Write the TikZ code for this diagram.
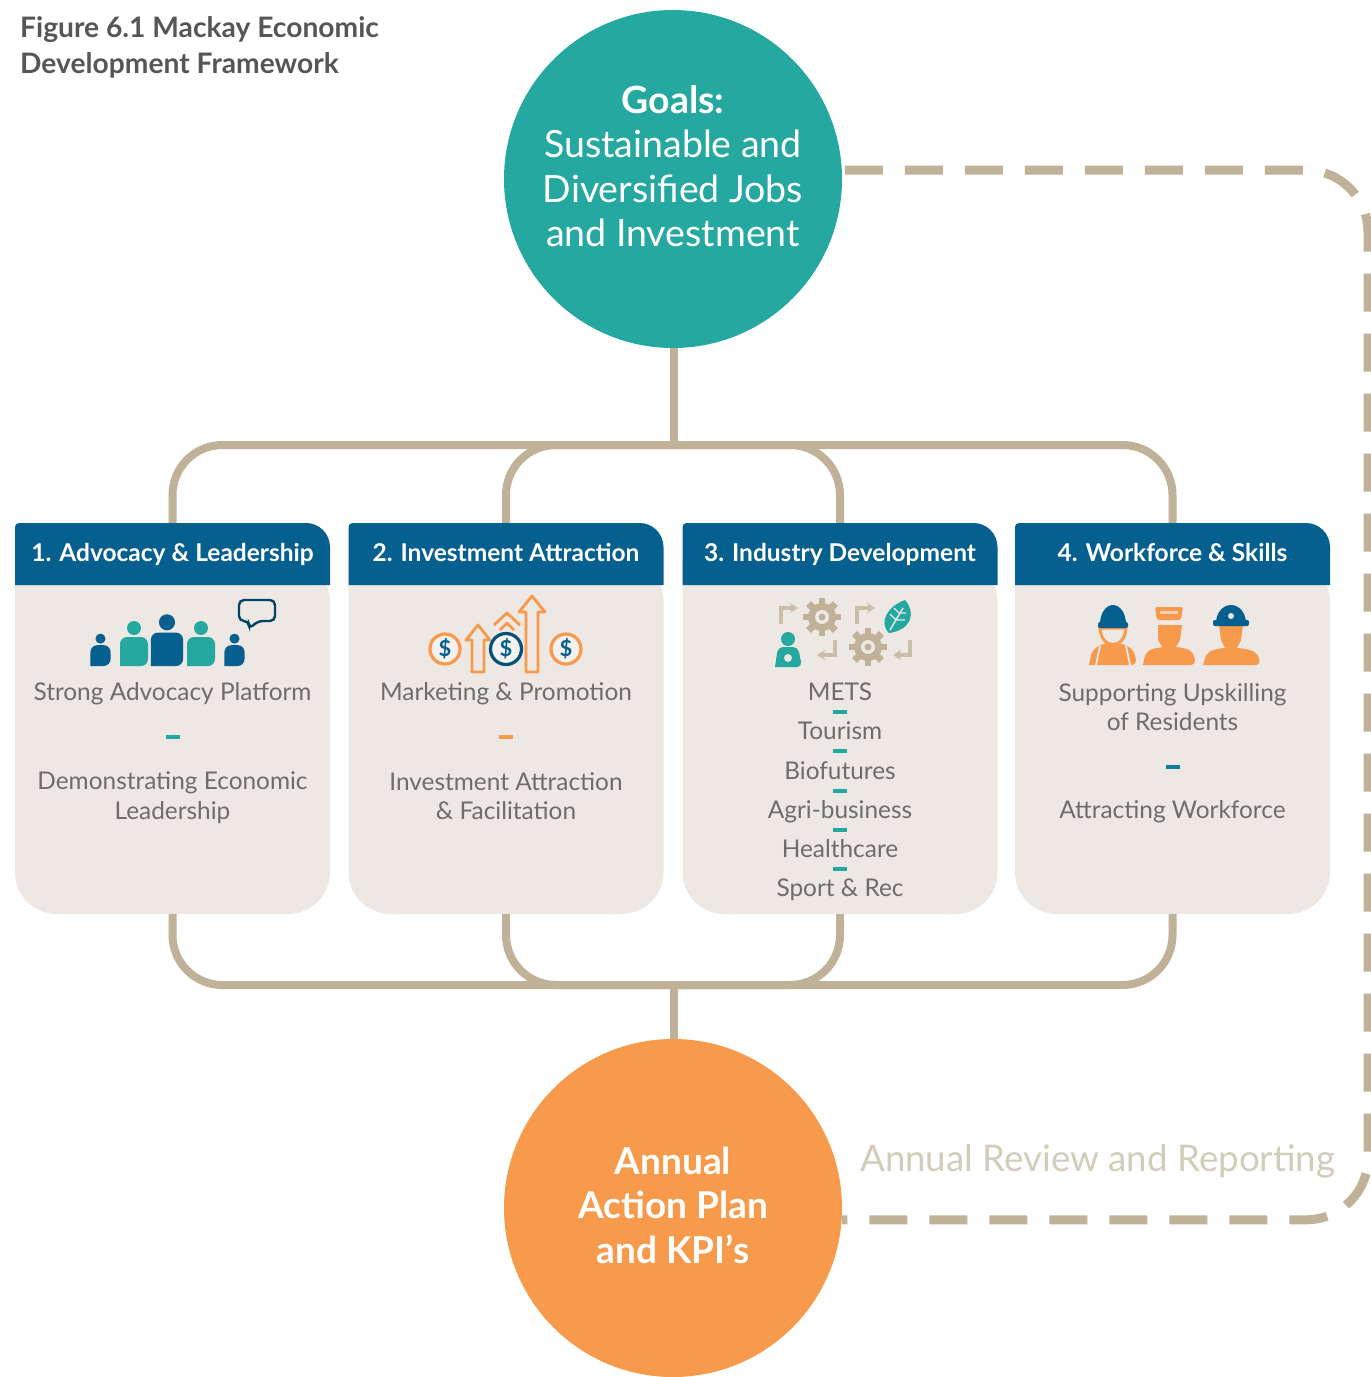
\documentclass[tikz,border=0pt]{standalone}
\usepackage{fontspec}
\setmainfont{Lato}
\usepackage{tikz}
\usetikzlibrary{arrows.meta,positioning,calc}

\definecolor{goalteal}{HTML}{25A8A0}
\definecolor{planorange}{HTML}{F79A4B}
\definecolor{linktan}{HTML}{BFB298}
\definecolor{headblue}{HTML}{05608F}
\definecolor{cardfill}{HTML}{EDE8E3}
\definecolor{itemgray}{HTML}{6E6C6C}
\definecolor{reviewtan}{HTML}{D2CCBA}
\definecolor{titlegray}{HTML}{565656}

\begin{document}
\begin{tikzpicture}[
    x=1pt, y=-1pt,
    circlebox/.style={circle, inner sep=0pt, minimum size=338pt},
    circletext/.style={inner sep=0pt, text=white, align=center, font=\fontsize{37.5}{44.5}\selectfont},
    headbox/.style={minimum width=315pt, minimum height=62pt, inner sep=0pt, text height=17.5pt, text depth=3pt, text=white, font=\fontsize{24.5}{28}\selectfont\bfseries},
    bodybox/.style={minimum width=315pt, minimum height=329pt, inner sep=0pt},
    item/.style={text=itemgray, inner sep=0pt, text height=17.5pt, text depth=0pt, font=\fontsize{24.4}{29.5}\selectfont},
    itemtwo/.style={text=itemgray, align=center, inner sep=0pt, font=\fontsize{24.4}{29.5}\selectfont},
    sepbar/.style={minimum width=14pt, minimum height=3.5pt, inner sep=0pt, fill=#1},
    link/.style={draw=linktan, line width=8pt, rounded corners=50pt},
    review/.style={draw=linktan, line width=9pt, rounded corners=62pt, dash pattern=on 38pt off 22pt, dash phase=57pt},
    bentarrow/.style={draw=linktan!85!white, line width=3.4pt, -{Stealth[length=8pt,width=10pt]}},
    personicon/.pic={
        \fill[pic actions] (0,-38) circle (7);
        \fill[pic actions, rounded corners=7pt] (-14,0) -- (-14,-29) -- (14,-29) -- (14,0) [sharp corners] -- cycle;
    },
    gearicon/.pic={
        \fill[linktan] (0,0) circle (14);
        \foreach \a in {0,45,...,315} {
            \fill[linktan, rotate=\a] (-3.4,-19) rectangle (3.4,-10);
        }
        \fill[cardfill] (0,0) circle (7);
        \fill[linktan] (0,0) circle (3.5);
    },
    coinicon/.pic={
        \draw[planorange, line width=3.2pt, fill=cardfill!60!white] (0,0) circle (15);
        \node[text=headblue, font=\fontsize{22}{22}\selectfont\bfseries] at (0,0) {\$};
    }
]

\useasboundingbox (0,0) rectangle (1371,1377);
\fill[white] (0,0) rectangle (1371,1377);

% Titre
\node[anchor=north west, inner sep=0pt, align=left, text=titlegray, font=\fontsize{28.2}{36}\selectfont\bfseries] (title) at (20,16) {Figure 6.1 Mackay Economic\\Development Framework};

% Cercles
\node[circlebox, fill=goalteal] (goals) at (673,179) {};
\node[circletext] (goalstext) at (673,166) {\textbf{Goals:}\\Sustainable and\\Diversified Jobs\\and Investment};
\node[circlebox, fill=planorange] (plan) at (673,1208) {};
\node[circletext, font=\fontsize{37}{44.5}\selectfont\bfseries] (plantext) at (673,1205) {Annual\\Action Plan\\and KPI’s};

% Cartes
\foreach \x/\n in {172.5/1, 506/2, 840/3, 1172.5/4} {
    \fill[cardfill, rounded corners=42pt] ({\x-157.5},560) -- ({\x-157.5},914) -- ({\x+157.5},914) -- ({\x+157.5},560) [sharp corners] -- cycle;
    \fill[headblue, rounded corners=24pt] ({\x-157.5},585) [rounded corners=4pt] -- ({\x-157.5},523) [rounded corners=24pt] -- ({\x+157.5},523) [sharp corners] -- ({\x+157.5},585) -- cycle;
    \node[bodybox] (body\n) at (\x,749.5) {};
}
\node[headbox] (head1) at (172.5,554) {1. Advocacy \& Leadership};
\node[headbox] (head2) at (506,554) {2. Investment Attraction};
\node[headbox] (head3) at (840,554) {3. Industry Development};
\node[headbox] (head4) at (1172.5,554) {4. Workforce \& Skills};

% Liaisons
\coordinate (topjoin) at (674,445);
\coordinate (botjoin) at (674,985);
\draw[link] (topjoin |- goals.south) -- (topjoin);
\draw[link] (botjoin) -- (botjoin |- plan.north);
\foreach \n in {1,2,3,4} {
    \draw[link] (topjoin) -| (head\n.north);
    \draw[link] (botjoin) -| (body\n.south);
}

% Revue annuelle
\coordinate (reviewside) at (1368,700);
\draw[review] (goals.3) -| (reviewside) |- (plan.-4);
\node[anchor=west, inner sep=0pt, text height=26pt, text depth=0pt, text=reviewtan, font=\fontsize{36.7}{36}\selectfont] (reviewlabel) at (860,1158) {Annual Review and Reporting};

% Carte 1
\node[item] (adv1) at (172.5,692) {Strong Advocacy Platform};
\node[sepbar=goalteal] (advsep) at (172.5,737) {};
\node[itemtwo] (adv2) at (172.5,797.5) {Demonstrating Economic\\Leadership};

% Carte 2
\node[item] (inv1) at (506,692) {Marketing \& Promotion};
\node[sepbar=planorange] (invsep) at (506,737) {};
\node[itemtwo] (inv2) at (506,796) {Investment Attraction\\\& Facilitation};

% Carte 3
\node[item] (ind1) at (840,692) {METS};
\node[item] (ind2) at (840,731) {Tourism};
\node[item] (ind3) at (840,771) {Biofutures};
\node[item] (ind4) at (840,810) {Agri-business};
\node[item] (ind5) at (840,849) {Healthcare};
\node[item] (ind6) at (840,888) {Sport \& Rec};
\foreach \y/\n in {712/1, 751/2, 791/3, 830/4, 869/5} {
    \node[sepbar=goalteal] (indsep\n) at (840,\y) {};
}

% Carte 4
\node[itemtwo] (wor1) at (1172.5,707) {Supporting Upskilling\\of Residents};
\node[sepbar=headblue!60!goalteal] (worsep) at (1172.5,767) {};
\node[item] (wor2) at (1172.5,810) {Attracting Workforce};

% Icône 1
\foreach \x/\s/\c in {100.5/.72/headblue, 134/1/goalteal, 167/1.15/headblue, 201/1/goalteal, 234.5/.72/headblue} {
    \pic[fill=\c, scale=\s] at (\x,666) {personicon};
}
\draw[draw=headblue!70!black, line width=2.4pt, rounded corners=5pt, fill=cardfill] (239,600) -- (275,600) -- (275,621) -- (258,621) -- (249,629) -- (249,621) -- (239,621) -- cycle;

% Icône 2
\pic at (445,649) {coinicon};
\pic at (566,649) {coinicon};
\draw[planorange, line width=2.8pt, line join=round] (472,672) -- (472,640) -- (466,640) -- (478,625) -- (490,640) -- (484,640) -- (484,672) -- cycle;
\draw[planorange, line width=2.8pt, line join=round] (494,625) -- (507,613) -- (520,625) (500,630) -- (507,623) -- (514,630);
\draw[planorange, line width=2.8pt, line join=round] (526,672) -- (526,612) -- (519,612) -- (532,596) -- (545,612) -- (538,612) -- (538,672) -- cycle;
\draw[headblue!85!black, line width=3.2pt, fill=cardfill!60!white] (506,649) circle (15.5);
\node[text=headblue, font=\fontsize{22}{22}\selectfont\bfseries] (coinmark) at (506,649) {\$};

% Icône 3
\pic at (822,617) {gearicon};
\pic at (868,647) {gearicon};
\draw[bentarrow] (781,624) -- (781,608) -- (798,608);
\draw[bentarrow] (857,624) -- (857,608) -- (875,608);
\draw[bentarrow] (835,640) -- (835,655) -- (817,655);
\draw[bentarrow] (910,640) -- (910,655) -- (893,655);
\fill[goalteal] (788,639) circle (7);
\fill[goalteal, rounded corners=5pt] (775,667) -- (778,647) -- (798,647) -- (802,667) [sharp corners] -- cycle;
\fill[cardfill] (788,658) circle (4);
\fill[goalteal] (905,600) .. controls (916,612) and (912,630) .. (889,633) .. controls (878,622) and (888,606) .. (905,600) -- cycle;
\draw[cardfill, line width=1.4pt] (890,630) -- (903,608) (896,620) -- (890,614) (896,620) -- (905,620) (899,613) -- (894,608) (899,613) -- (906,613);

% Icône 4
\fill[planorange, rounded corners=6pt] (1089,665) -- (1092,650) -- (1104,643) -- (1122,643) -- (1134,650) -- (1137,665) [sharp corners] -- cycle;
\draw[cardfill, line width=1.8pt] (1100,646) -- (1096,665) (1126,646) -- (1130,665);
\draw[planorange, line width=3pt, fill=cardfill] (1100,628) .. controls (1101,650) and (1125,650) .. (1126,628) -- cycle;
\fill[headblue] (1100,624) arc[start angle=180, end angle=360, x radius=13, y radius=19] -- cycle;
\fill[headblue, rounded corners=2pt] (1098,622) rectangle (1128,628);
\fill[planorange, rounded corners=6pt] (1143,665) -- (1146,651) -- (1160,647) -- (1180,647) -- (1193,651) -- (1196,665) [sharp corners] -- cycle;
\fill[planorange] (1158,625) -- (1182,625) -- (1180,640) -- (1174,650) -- (1164,650) -- (1158,640) -- cycle;
\fill[planorange, rounded corners=2pt] (1155,607) -- (1183,607) -- (1181,620) -- (1157,620) -- cycle;
\fill[cardfill!70!planorange] (1160,611) rectangle (1178,614);
\fill[planorange, rounded corners=6pt] (1203,665) -- (1207,652) -- (1220,648) -- (1242,648) -- (1257,652) -- (1261,665) [sharp corners] -- cycle;
\fill[planorange] (1219,625) -- (1243,625) -- (1241,640) -- (1236,650) -- (1226,650) -- (1221,640) -- cycle;
\fill[headblue] (1216,623) arc[start angle=180, end angle=360, x radius=15, y radius=18] -- cycle;
\fill[headblue, rounded corners=2pt] (1213,620) rectangle (1249,626);
\fill[cardfill] (1231,616) circle (3);

\end{tikzpicture}
\end{document}
